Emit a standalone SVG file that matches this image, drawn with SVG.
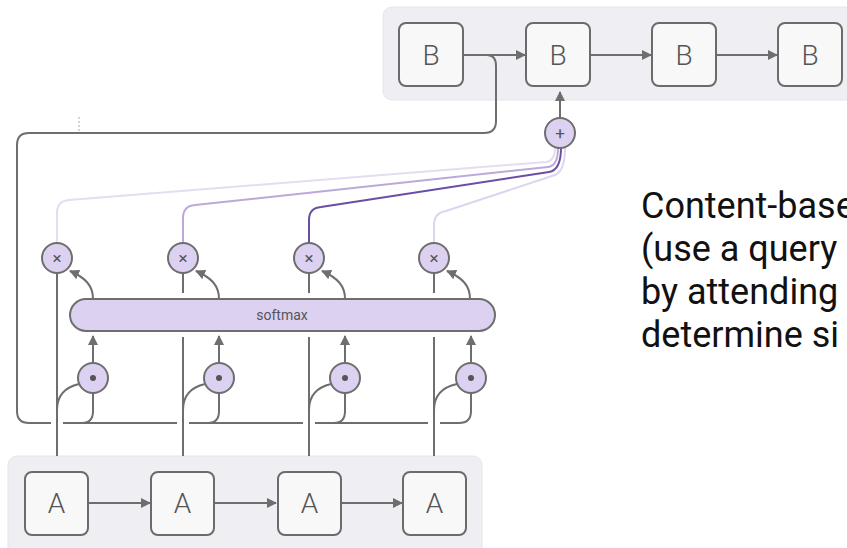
<svg xmlns="http://www.w3.org/2000/svg" width="847" height="548" viewBox="0 0 847 548">
<defs>
<style>
.panel{fill:#efeff3;stroke:#e4e4ea;stroke-width:1}
.box{fill:#f8f8f8;stroke:#6b6b6b;stroke-width:2}
.lbl{font-family:Roboto,"Liberation Sans",sans-serif;font-weight:300;font-size:28px;fill:#555;text-anchor:middle;dominant-baseline:central}
.op{fill:#ddd1f1;stroke:#6e6e6e;stroke-width:2}
.sym{font-family:Roboto,"Liberation Sans",sans-serif;font-size:17px;fill:#555;text-anchor:middle;dominant-baseline:central}
.ln{fill:none;stroke:#6e6e6e;stroke-width:2}
.arr{fill:none;stroke:#6e6e6e;stroke-width:2;marker-end:url(#ah)}
.note{font-family:Roboto,"Liberation Sans",sans-serif;font-size:36px;fill:#111}
</style>
<marker id="ah" viewBox="0 0 10 10" refX="9" refY="5" markerWidth="5" markerHeight="5" orient="auto" markerUnits="strokeWidth">
<path d="M0,0 L10,5 L0,10 z" fill="#6e6e6e"/>
</marker>
</defs>
<rect width="847" height="548" fill="#ffffff"/>

<g id="panel-b"><rect class="panel" x="383" y="7" width="480" height="93" rx="9"/></g>
<g id="panel-a"><rect class="panel" x="8" y="456" width="474" height="110" rx="9"/></g>

<g id="connectors">
<path class="ln" d="M487,55 Q496,55 496,66 V121 Q496,133 484,133 H29 Q17,133 17,145 V411 Q17,423 29,423 H51 M63,423 H177 M189,423 H303 M315,423 H428 M440,423 H459"/>
<path class="ln" d="M459,423 Q471,423 471,411 V393"/>
<path class="ln" d="M82,423 Q93,423 93,411 V393"/>
<path class="ln" d="M208,423 Q219,423 219,411 V393"/>
<path class="ln" d="M334,423 Q345,423 345,411 V393"/>
<line x1="79" y1="117" x2="79" y2="131" stroke="#aaaaaa" stroke-width="1" stroke-dasharray="2,2"/>
<path class="ln" d="M57,456 V273"/>
<path class="ln" d="M183,456 V337 M183,293 V273"/>
<path class="ln" d="M309,456 V337 M309,293 V273"/>
<path class="ln" d="M434,456 V337 M434,293 V273"/>
<path class="ln" d="M57,410 C57,394 66,387 79,384"/>
<path class="ln" d="M183,410 C183,394 192,387 205,384"/>
<path class="ln" d="M309,410 C309,394 318,387 331,384"/>
<path class="ln" d="M434,410 C434,394 443,387 457,384"/>
<path class="arr" d="M93,363 V336"/>
<path class="arr" d="M219,363 V336"/>
<path class="arr" d="M345,363 V336"/>
<path class="arr" d="M471,363 V336"/>
<path class="arr" d="M93,299 C93,286 86,278 70,271"/>
<path class="arr" d="M219,299 C219,286 212,278 196,271"/>
<path class="arr" d="M345,299 C345,286 338,278 322,271"/>
<path class="arr" d="M470,299 C470,286 463,278 447,271"/>
<path fill="none" stroke="#e4ddf0" stroke-width="2" d="M57,243 V213 Q57,201 69,200 L546,162 Q555,161 555,148"/>
<path fill="none" stroke="#bba9da" stroke-width="2" d="M183,243 V218 Q183,206 195,205 L548,167 Q558,166 558,148"/>
<path fill="none" stroke="#6a4ea6" stroke-width="2" d="M309,243 V220 Q309,208 321,207 L549,172 Q561,170 561,148"/>
<path fill="none" stroke="#ddd4ee" stroke-width="2" d="M434,243 V225 Q434,213 446,211 L555,175 Q565,171 565,148"/>
<path class="arr" d="M560,118 V92"/>
<path class="arr" d="M463,55 H525"/>
<path class="arr" d="M590,55 H651"/>
<path class="arr" d="M716,55 H777"/>
<path class="arr" d="M88,503 H150"/>
<path class="arr" d="M214,503 H276"/>
<path class="arr" d="M341,503 H402"/>
</g>

<g id="softmax"><rect class="op" x="70" y="299" width="425" height="32" rx="16"/><text x="282" y="315" font-family="Roboto,'Liberation Sans',sans-serif" font-size="14" fill="#555" text-anchor="middle" dominant-baseline="central">softmax</text></g>

<g id="mul1"><circle class="op" cx="57" cy="258" r="15"/><text class="sym" x="57" y="258">×</text></g>
<g id="mul2"><circle class="op" cx="183" cy="258" r="15"/><text class="sym" x="183" y="258">×</text></g>
<g id="mul3"><circle class="op" cx="309" cy="258" r="15"/><text class="sym" x="309" y="258">×</text></g>
<g id="mul4"><circle class="op" cx="434" cy="258" r="15"/><text class="sym" x="434" y="258">×</text></g>

<g id="dot1"><circle class="op" cx="93" cy="378" r="15"/><circle cx="93" cy="378" r="3" fill="#555"/></g>
<g id="dot2"><circle class="op" cx="219" cy="378" r="15"/><circle cx="219" cy="378" r="3" fill="#555"/></g>
<g id="dot3"><circle class="op" cx="345" cy="378" r="15"/><circle cx="345" cy="378" r="3" fill="#555"/></g>
<g id="dot4"><circle class="op" cx="471" cy="378" r="15"/><circle cx="471" cy="378" r="3" fill="#555"/></g>

<g id="sum"><circle class="op" cx="560" cy="133" r="15"/><text class="sym" x="560" y="133">+</text></g>

<g id="b1"><rect class="box" x="399" y="23" width="64" height="63" rx="7"/><text class="lbl" x="431" y="55">B</text></g>
<g id="b2"><rect class="box" x="526" y="23" width="64" height="63" rx="7"/><text class="lbl" x="558" y="55">B</text></g>
<g id="b3"><rect class="box" x="652" y="23" width="64" height="63" rx="7"/><text class="lbl" x="684" y="55">B</text></g>
<g id="b4"><rect class="box" x="778" y="23" width="64" height="63" rx="7"/><text class="lbl" x="810" y="55">B</text></g>

<g id="a1"><rect class="box" x="25" y="472" width="63" height="63" rx="7"/><text class="lbl" x="56.5" y="503">A</text></g>
<g id="a2"><rect class="box" x="151" y="472" width="63" height="63" rx="7"/><text class="lbl" x="182.5" y="503">A</text></g>
<g id="a3"><rect class="box" x="278" y="472" width="63" height="63" rx="7"/><text class="lbl" x="309.5" y="503">A</text></g>
<g id="a4"><rect class="box" x="403" y="472" width="63" height="63" rx="7"/><text class="lbl" x="434.5" y="503">A</text></g>

<g id="caption">
<text class="note" x="641" y="218">Content-base</text>
<text class="note" x="641" y="261">(use a query</text>
<text class="note" x="641" y="304">by attending</text>
<text class="note" x="641" y="347">determine si</text>
</g>
</svg>
